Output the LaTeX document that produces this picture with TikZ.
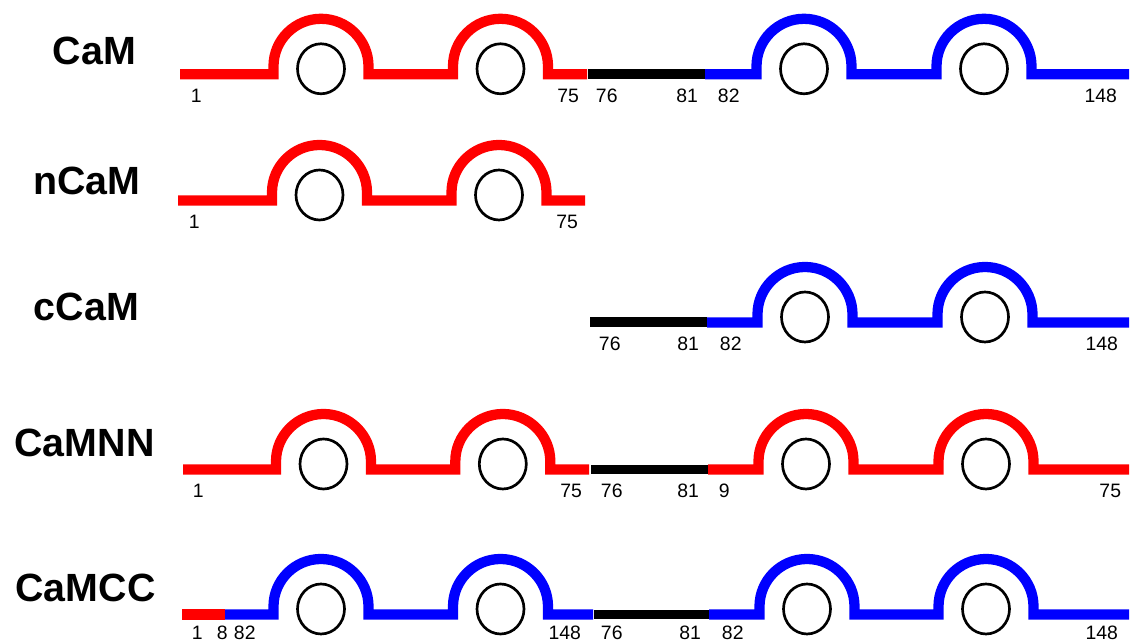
\documentclass[tikz,border=0pt]{standalone}
\usepackage{fontspec}
\setmainfont{Liberation Sans}
\usepackage{tikz}

% one lobe: straight run with two EF loops, a ring under each loop
% #1 colour, #2 y, #3 start, #4 loop 1, #5 loop 2, #6 end
\newcommand{\lobe}[6]{%
  \draw[strand,#1] (#3,#2) -- ({#4-47.5},#2) -- ({#4-47.5},{#2+8})
    arc[start angle=180,end angle=0,radius=47.5] -- ({#4+47.5},#2)
    -- ({#5-47.5},#2) -- ({#5-47.5},{#2+8})
    arc[start angle=180,end angle=0,radius=47.5] -- ({#5+47.5},#2) -- (#6,#2);
  \draw[site] (#4,{#2+5.5}) ellipse[x radius=23.5,y radius=25];
  \draw[site] (#5,{#2+5.5}) ellipse[x radius=23.5,y radius=25];
}

\begin{document}
\begin{tikzpicture}[x=0.025cm,y=0.025cm,
  strand/.style={line width=7.3pt,line join=miter},
  linker/.style={line width=7.1pt,black},
  site/.style={black,line width=1.9pt},
  tag/.style={font=\fontsize{28}{30}\selectfont\bfseries,anchor=base},
  num/.style={font=\fontsize{13.8}{15}\selectfont,inner ysep=0pt}]
  \useasboundingbox[fill=white] (0,0) rectangle (1131,642);

  % CaM
  \node[tag] (cam) at (94.5,577) {CaM};
  \lobe{red}{567.7}{180}{321}{500.5}{587}
  \draw[linker] (588,567.7) -- (705,567.7);
  \lobe{blue}{567.7}{705}{804}{984}{1129}
  \node[num,anchor=base west] (cam1) at (186,539.7) {1};
  \node[num,anchor=base east] (cam75) at (584,539.7) {75};
  \node[num,anchor=base west] (cam76) at (591,539.7) {76};
  \node[num,anchor=base east] (cam81) at (703,539.7) {81};
  \node[num,anchor=base west] (cam82) at (713,539.7) {82};
  \node[num,anchor=base east] (cam148) at (1122,539.7) {148};

  % nCaM
  \node[tag] (ncam) at (87,447) {nCaM};
  \lobe{red}{441.5}{178}{319.5}{499}{585}
  \node[num,anchor=base west] (ncam1) at (184,413.5) {1};
  \node[num,anchor=base east] (ncam75) at (583,413.5) {75};

  % cCaM
  \node[tag] (ccam) at (86.5,321) {cCaM};
  \draw[linker] (590,319.5) -- (707,319.5);
  \lobe{blue}{319.5}{707}{805}{985}{1129}
  \node[num,anchor=base west] (ccam76) at (594,291.5) {76};
  \node[num,anchor=base east] (ccam81) at (704,291.5) {81};
  \node[num,anchor=base west] (ccam82) at (715,291.5) {82};
  \node[num,anchor=base east] (ccam148) at (1123,291.5) {148};

  % CaMNN
  \node[tag] (camnn) at (84.5,185) {CaMNN};
  \lobe{red}{172.5}{183}{323.5}{502.8}{589}
  \draw[linker] (591,172.5) -- (708,172.5);
  \lobe{red}{172.5}{708}{806}{986}{1129}
  \node[num,anchor=base west] (camnn1) at (188,144.5) {1};
  \node[num,anchor=base east] (camnn75) at (587,144.5) {75};
  \node[num,anchor=base west] (camnn76) at (596,144.5) {76};
  \node[num,anchor=base east] (camnn81) at (704,144.5) {81};
  \node[num,anchor=base west] (camnn9) at (714,144.5) {9};
  \node[num,anchor=base east] (camnn75b) at (1126,144.5) {75};

  % CaMCC
  \node[tag] (camcc) at (85.5,40) {CaMCC};
  \draw[strand,red] (182,27.5) -- (225,27.5);
  \lobe{blue}{27.5}{225}{321}{500.5}{593}
  \draw[linker] (594,27.5) -- (709,27.5);
  \lobe{blue}{27.5}{709}{807}{986}{1129}
  \node[num,anchor=base west] (camcc1) at (187,2) {1};
  \node[num,anchor=base west] (camcc8) at (212,2) {8};
  \node[num,anchor=base west] (camcc82) at (229,2) {82};
  \node[num,anchor=base east] (camcc148) at (586,2) {148};
  \node[num,anchor=base west] (camcc76) at (596,2) {76};
  \node[num,anchor=base east] (camcc81) at (706,2) {81};
  \node[num,anchor=base west] (camcc82b) at (717,2) {82};
  \node[num,anchor=base east] (camcc148b) at (1123,2) {148};
\end{tikzpicture}
\end{document}
